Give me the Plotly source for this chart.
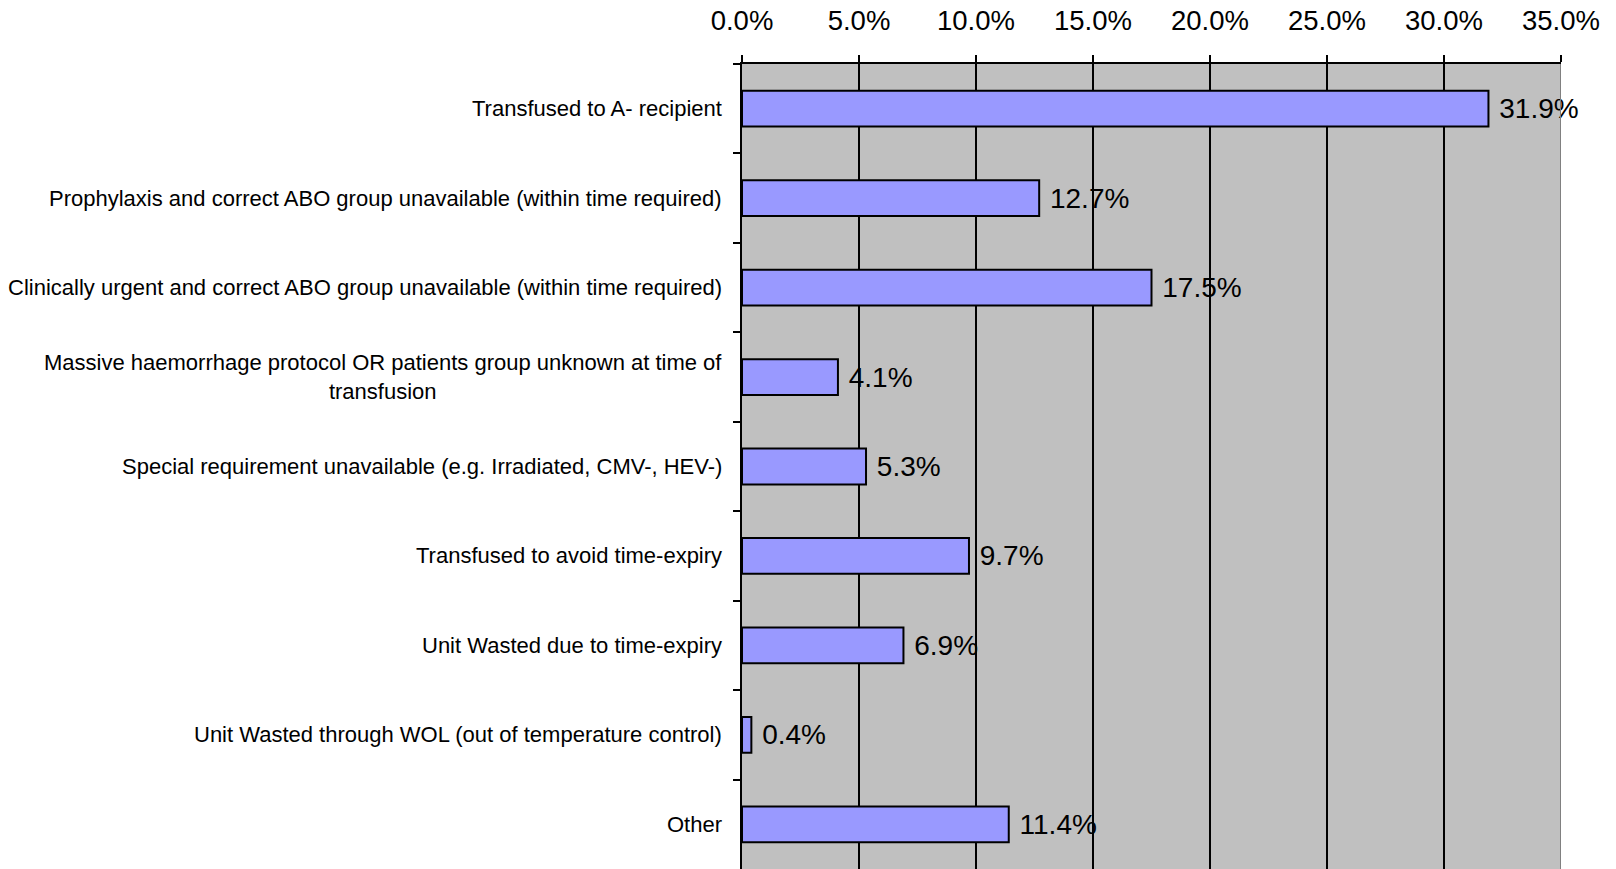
import plotly.graph_objects as go

categories = [
    "Transfused to A- recipient",
    "Prophylaxis and correct ABO group unavailable (within time required)",
    "Clinically urgent and correct ABO group unavailable (within time required)",
    "Massive haemorrhage protocol OR patients group unknown at time of<br>transfusion",
    "Special requirement unavailable (e.g. Irradiated, CMV-, HEV-)",
    "Transfused to avoid time-expiry",
    "Unit Wasted due to time-expiry",
    "Unit Wasted through WOL (out of temperature control)",
    "Other",
]
values = [31.9, 12.7, 17.5, 4.1, 5.3, 9.7, 6.9, 0.4, 11.4]

x_min, x_max, x_step = 0, 35, 5

fig = go.Figure()
fig.add_trace(go.Bar(
    y=categories,
    x=values,
    orientation="h",
    marker=dict(color="#9999FF", line=dict(color="black", width=2)),
    width=0.4,
    texttemplate="\u00a0%{x:.1f}%",
    textposition="outside",
    textfont=dict(family="Liberation Sans, Arial, sans-serif", size=28, color="black"),
    constraintext="none",
    cliponaxis=False,
    hoverinfo="skip",
))

for c in categories:
    fig.add_annotation(
        x=0, xref="paper", y=c, yref="y",
        text=c, showarrow=False,
        xanchor="right", yanchor="middle", align="center",
        xshift=-18,
        font=dict(family="Liberation Sans, Arial, sans-serif", size=22, color="black"),
    )

fig.add_shape(type="line", xref="x", yref="paper", x0=x_max, x1=x_max, y0=0, y1=1,
              line=dict(color="#808080", width=2), layer="above")

fig.update_layout(
    width=1616, height=869,
    margin=dict(l=742, r=55, t=64, b=0, autoexpand=False),
    paper_bgcolor="white",
    plot_bgcolor="#C0C0C0",
    showlegend=False,
    bargap=0.6,
    hovermode=False,
    xaxis=dict(
        side="top", range=[x_min, x_max], tick0=0, dtick=x_step,
        tickformat=".1f", ticksuffix="%",
        ticks="outside", ticklen=7, tickwidth=2, tickcolor="black",
        showgrid=True, gridcolor="black", gridwidth=2,
        showline=True, linecolor="black", linewidth=2,
        zeroline=False, automargin=False,
        ticklabelstandoff=14,
        tickfont=dict(family="Liberation Sans, Arial, sans-serif", size=27.5, color="black"),
    ),
    yaxis=dict(
        type="category", categoryorder="array", categoryarray=categories,
        range=[len(categories) - 0.5, -0.5],
        showticklabels=False, automargin=False,
        ticks="outside", tickson="boundaries", ticklen=7, tickwidth=2, tickcolor="black",
        showgrid=False, showline=True, linecolor="black", linewidth=2,
        zeroline=False,
    ),
)

fig.write_html(
    "out.html",
    config={"displayModeBar": False, "staticPlot": True},
    post_script="document.body.style.margin='0';document.body.style.overflow='hidden';",
)
